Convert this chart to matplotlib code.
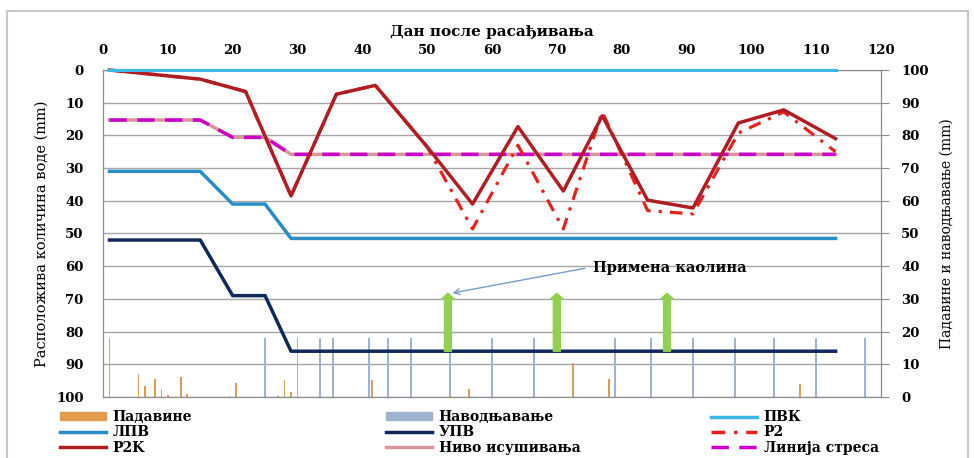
import numpy as np
import matplotlib
matplotlib.use('Agg')
import matplotlib.pyplot as plt
from matplotlib.patches import Patch, Rectangle
from matplotlib.lines import Line2D

plt.rcParams['font.family'] = ['DejaVu Serif']

# дани и вредности
step_days = [1, 15, 20, 25, 29, 113]
lpv = [31, 31, 41, 41, 51.5, 51.5]
upv = [52, 52, 69, 69, 86, 86]
stres = [15.3, 15.3, 20.6, 20.6, 25.8, 25.8]
isusivanje = [15.3, 15.3, 20.6, 20.6, 25.8, 25.8]
pvk_days = [1, 113]
pvk = [0, 0]

p_days = [1, 15, 22, 29, 36, 42, 50, 57, 64, 71, 77, 84, 91, 98, 105, 113]
p2k = [0, 2.8, 6.6, 38.5, 7.4, 4.7, 23.5, 41, 17.3, 37, 14, 39.8, 42.2, 16.2, 12.2, 21]
p2 = [0, 2.8, 6.6, 38.5, 7.4, 4.7, 23.5, 48.6, 23, 48.6, 12.8, 43, 44, 19.3, 12.8, 25]

nav_days = [1, 25, 30, 33.5, 35.5, 41, 44, 47.5, 53.5, 60, 66.5, 79, 84.5, 91, 97.5, 103.5, 110, 117.5]
nav = [18] * len(nav_days)
pad_days = [5.5, 6.5, 8, 9, 10, 12, 13, 19.5, 20.5, 27, 28, 29, 41.5, 56.5, 72.5, 78, 107.5]
pad = [7.0, 3.5, 5.4, 2.4, 0.5, 6.0, 0.8, 0.3, 4.2, 0.4, 5.2, 1.6, 5.3, 2.4, 10.5, 5.4, 4.0]

kaolin_days = [53.2, 70, 87]
kaolin_top = 68.3

fig = plt.figure(figsize=(9.74, 4.58), dpi=100)
ax = fig.add_axes([103/974, 1-397/458, 778/974, 327/458])
ax2 = ax.twinx()
ax.set_zorder(ax2.get_zorder() + 1)
ax.patch.set_visible(False)

gray = '#8c8c8c'
# бар на десној оси
ax2.bar(nav_days, nav, width=0.3, color='#9db3cf', zorder=2)
ax2.bar(pad_days, pad, width=0.25, color='#dc9d58', zorder=2)
ax2.set_ylim(0, 100)
ax2.set_yticks(np.arange(0, 101, 10))
ax2.grid(axis='y', color='#a6a6a6', lw=1)
ax2.set_axisbelow(True)
ax2.tick_params(axis='y', length=6, color=gray, pad=8.5, labelsize=9.5)
for t in ax2.get_yticklabels():
    t.set_fontweight('bold')
ax2.set_ylabel('Падавине и наводњавање (mm)', fontsize=10, labelpad=8)

# линије
ax.plot(pvk_days, pvk, color='#3db8e4', lw=2.2, zorder=4, clip_on=False)
ax.plot(step_days, lpv, color='#2a8dc6', lw=2.5)
ax.plot(step_days, upv, color='#10295a', lw=2.5)
ax.plot(step_days, isusivanje, color='#d9969a', lw=2.5)
ax.plot(step_days, stres, color='#cc00cc', lw=2.5, ls=(0, (5, 3)))
ax.plot(p_days, p2, color='#e8231e', lw=2.3, ls=(0, (4, 2.5, 1, 2.5)))
ax.plot(p_days, p2k, color='#b01e23', lw=2.5, zorder=3, clip_on=False)

for d in kaolin_days:
    ax.annotate('', xy=(d, kaolin_top), xytext=(d, upv[-1]),
                arrowprops=dict(arrowstyle='simple,head_length=0.4,head_width=0.9,tail_width=0.5',
                                color='#92d050', mutation_scale=10, shrinkA=0, shrinkB=0))
ax.annotate('Примена каолина', xy=(53.9, 68.2), xytext=(75.6, 60.6),
            fontsize=10.5, fontweight='bold', va='center', ha='left',
            arrowprops=dict(arrowstyle='->', color='#7a9cc6', lw=1, relpos=(0, 0.6), shrinkA=4, shrinkB=0))

ax.set_xlim(0, 120)
ax.set_ylim(100, 0)
ax.set_yticks(np.arange(0, 101, 10))
ax.set_xticks(np.arange(0, 121, 10))
ax.xaxis.tick_top()
ax.xaxis.set_label_position('top')
ax.tick_params(axis='x', length=0, pad=9, labelsize=9.5)
ax.tick_params(axis='y', length=0, pad=14, labelsize=9.5)
for t in ax.get_xticklabels() + ax.get_yticklabels():
    t.set_fontweight('bold')
ax.set_xlabel('Дан после расађивања', fontsize=11, fontweight='bold', labelpad=6)
ax.set_ylabel('Расположива количина воде (mm)', fontsize=10.5, labelpad=5)
for a in (ax, ax2):
    for s in a.spines.values():
        s.set_color(gray)

# легенда у три колоне
cols = [
    [Patch(color='#e39b4e', label='Падавине'),
     Line2D([], [], color='#2a8dc6', lw=2.5, label='ЛПВ'),
     Line2D([], [], color='#b01e23', lw=2.5, label='P2K')],
    [Patch(color='#9db3cf', label='Наводњавање'),
     Line2D([], [], color='#10295a', lw=2.5, label='УПВ'),
     Line2D([], [], color='#d9969a', lw=2.5, label='Ниво исушивања')],
    [Line2D([], [], color='#3db8e4', lw=2.5, label='ПВК'),
     Line2D([], [], color='#e8231e', lw=2.5, ls=(0, (4, 2.5, 1, 2.5)), label='P2'),
     Line2D([], [], color='#cc00cc', lw=2.5, ls=(0, (5, 3)), label='Линија стреса')],
]
for xpos, hs in zip([60/974, 386/974, 711/974], cols):
    fig.legend(handles=hs, loc='upper left', bbox_to_anchor=(xpos, 1-410/458),
               frameon=False, borderpad=0, borderaxespad=0, handlelength=3.3,
               handleheight=0.5, handletextpad=0.5, labelspacing=0.1,
               prop={'weight': 'bold', 'size': 10})

fig.add_artist(Rectangle((7/974, -0.1), 961/974, 1.1 - 11/458, transform=fig.transFigure,
                         fill=False, edgecolor='#c8c8c8', lw=1.5, clip_on=False))

fig.savefig('out.png', dpi=100)
